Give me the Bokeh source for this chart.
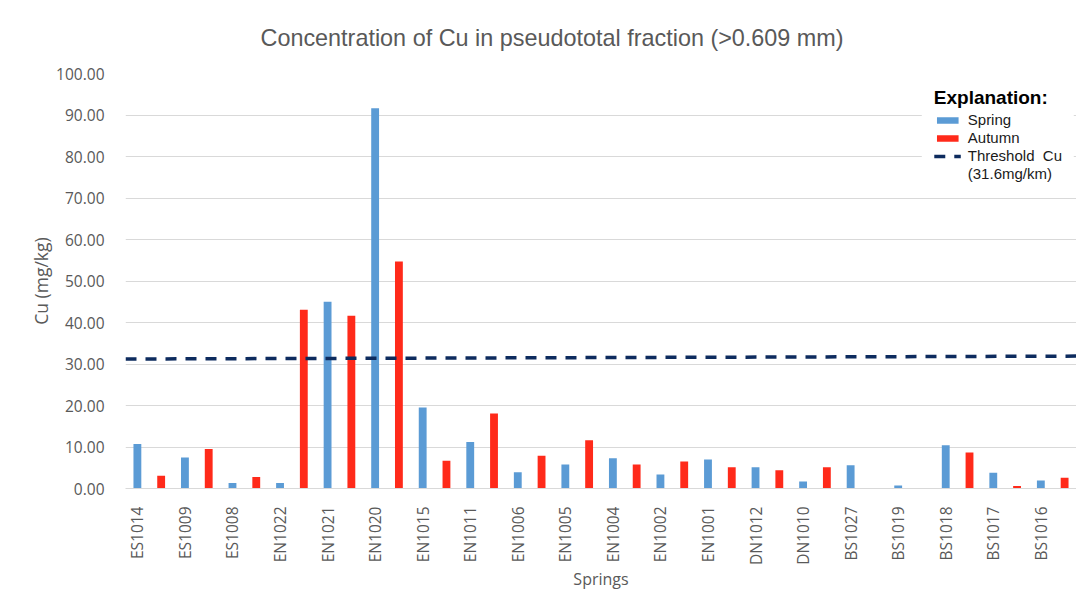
from bokeh.plotting import figure
from bokeh.models import (Range1d, FixedTicker, NumeralTickFormatter, Legend,
                          LegendItem)
from bokeh.embed import file_html
from bokeh.resources import INLINE
import math

# ---------------- data ----------------
springs = ["ES1014", "ES1009", "ES1008", "EN1022", "EN1021", "EN1020", "EN1015",
           "EN1011", "EN1006", "EN1005", "EN1004", "EN1002", "EN1001", "DN1012",
           "DN1010", "BS1027", "BS1019", "BS1018", "BS1017", "BS1016"]
spring_cu = [10.7, 7.5, 1.3, 1.3, 45.0, 91.6, 19.5, 11.2, 3.9, 5.8,
             7.3, 3.4, 7.0, 5.1, 1.7, 5.6, 0.7, 10.4, 3.8, 1.9]
autumn_cu = [3.1, 9.5, 2.8, 43.1, 41.6, 54.7, 6.7, 18.1, 7.9, 11.6,
             5.8, 6.5, 5.1, 4.4, 5.1, 0.0, 0.0, 8.7, 0.6, 2.6]
threshold_cu = [31.2, 31.9]
y_ticks = [0, 10, 20, 30, 40, 50, 60, 70, 80, 90, 100]

title_text = "Concentration of Cu in pseudototal fraction (>0.609 mm)"
TXT = "#595959"
GRID = "#D9D9D9"
BLUE = "#5B9BD5"
RED = "#FF2A1A"
NAVY = "#0D2B5E"

# slots: spring bar at even slot, autumn bar at odd slot
n_slots = 2 * len(springs)
spring_x = [2 * i for i in range(len(springs))]
autumn_x = [2 * i + 1 for i in range(len(springs))]
x_start, x_end = -0.5, n_slots - 0.5

p = figure(frame_width=951, frame_height=415, output_backend="svg",
           toolbar_location=None,
           x_range=Range1d(x_start, x_end), y_range=Range1d(0, 100),
           min_border_left=125, min_border_right=0, min_border_top=73,
           min_border_bottom=111)
p.outline_line_color = None
p.background_fill_color = "white"
p.border_fill_color = "white"

blue_r = p.vbar(x=spring_x, top=spring_cu, width=0.33, fill_color=BLUE, line_color=None)
red_r = p.vbar(x=autumn_x, top=autumn_cu, width=0.33, fill_color=RED, line_color=None)
thr_r = p.line([x_start, x_end], threshold_cu, line_color=NAVY, line_width=3.5,
               line_dash="11 9")
dummy_r = p.line(x=[], y=[], line_alpha=0)

# title
p.title.text = title_text
p.title.align = "left"
p.title.offset = 135
p.title.vertical_align = "middle"
p.title.standoff = 44
p.title.text_font = "Liberation Sans"
p.title.text_font_size = "23.4px"
p.title.text_font_style = "normal"
p.title.text_color = TXT

# axes
p.xaxis.ticker = FixedTicker(ticks=spring_x)
p.xaxis.major_label_overrides = {x: s for x, s in zip(spring_x, springs)}
p.xaxis.major_label_orientation = math.pi / 2
p.xaxis.major_label_text_font = "Open Sans"
p.xaxis.major_label_text_font_size = "15.5px"
p.xaxis.major_label_text_color = TXT
p.xaxis.major_label_standoff = 12
p.xaxis.major_tick_line_color = None
p.xaxis.minor_tick_line_color = None
p.xaxis.axis_line_color = GRID
p.xaxis.axis_label = "Springs"
p.xaxis.axis_label_text_font = "Open Sans"
p.xaxis.axis_label_text_font_size = "16px"
p.xaxis.axis_label_text_font_style = "normal"
p.xaxis.axis_label_text_color = TXT
p.xaxis.axis_label_standoff = 0

p.yaxis.ticker = FixedTicker(ticks=y_ticks)
p.yaxis.formatter = NumeralTickFormatter(format="0.00")
p.yaxis.major_label_text_font = "Open Sans"
p.yaxis.major_label_text_font_size = "15.5px"
p.yaxis.major_label_text_color = TXT
p.yaxis.major_label_standoff = 15
p.yaxis.major_tick_line_color = None
p.yaxis.minor_tick_line_color = None
p.yaxis.axis_line_color = None
p.yaxis.axis_label = "Cu (mg/kg)"
p.yaxis.axis_label_text_font = "Open Sans"
p.yaxis.axis_label_text_font_size = "17.5px"
p.yaxis.axis_label_text_font_style = "normal"
p.yaxis.axis_label_text_color = TXT
p.yaxis.axis_label_standoff = 0

p.xgrid.grid_line_color = None
p.ygrid.ticker = FixedTicker(ticks=y_ticks)
p.ygrid.grid_line_color = GRID
p.ygrid.grid_line_width = 1

# legend
legend = Legend(items=[LegendItem(label="Spring", renderers=[blue_r]),
                       LegendItem(label="Autumn", renderers=[red_r]),
                       LegendItem(label="Threshold  Cu", renderers=[thr_r]),
                       LegendItem(label="(31.6mg/km)", renderers=[dummy_r])],
                location="top_right", title="Explanation:")
legend.title_text_font = "Liberation Sans"
legend.title_text_font_style = "bold"
legend.title_text_font_size = "19px"
legend.title_text_color = "black"
legend.title_standoff = 2
legend.label_text_font = "Liberation Sans"
legend.label_text_font_size = "15px"
legend.label_text_color = "#1a1a1a"
legend.label_standoff = 7
legend.label_height = 17
legend.glyph_width = 27
legend.glyph_height = 8
legend.spacing = 1
legend.padding = 12
legend.margin = 2
legend.border_line_alpha = 0
legend.background_fill_color = "white"
legend.background_fill_alpha = 1
p.add_layout(legend, "center")

open("out.html", "w").write(file_html(p, INLINE))
